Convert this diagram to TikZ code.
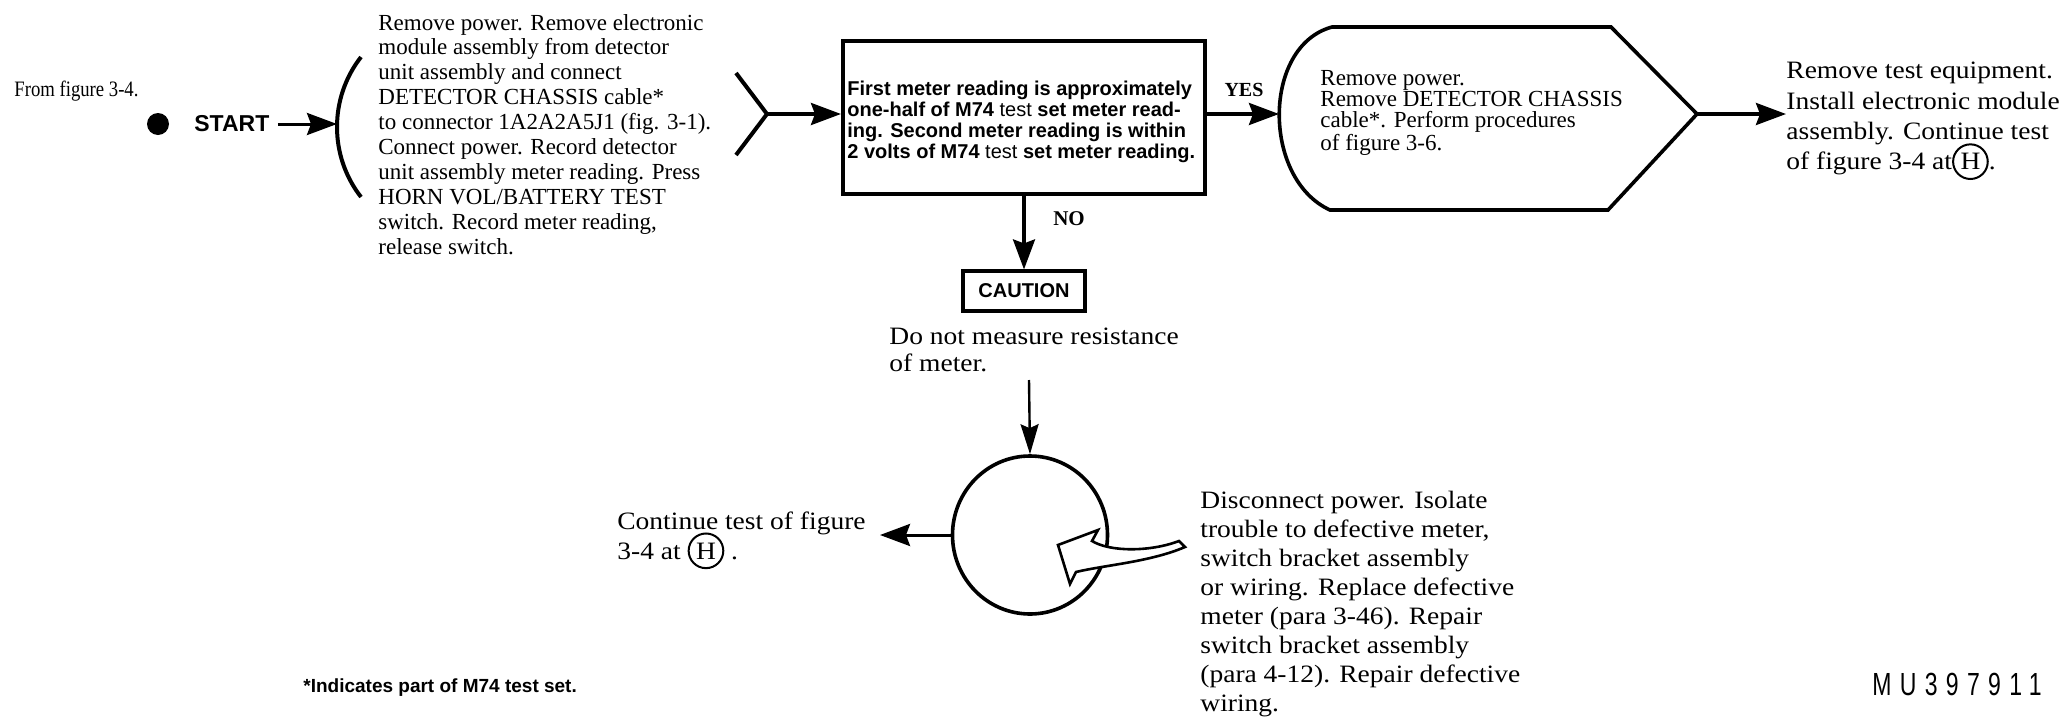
\documentclass[tikz,border=0pt]{standalone}
\usepackage{fontspec}
\usetikzlibrary{arrows.meta,shapes.geometric,calc}
\setmainfont{Liberation Serif}
\newfontfamily\bookface[FakeStretch=1.1]{Liberation Serif}
\newfontfamily\narrowface[FakeStretch=0.85]{Liberation Serif}
\newfontfamily\labelface{Liberation Sans}
\newfontfamily\tagface[FakeStretch=0.72,LetterSpace=26]{Liberation Sans}

% circled reference letter used in the "continue at" notes
\newcommand{\circH}{\smash{\tikz[baseline=(hc.base)]\node[draw,circle,line width=1pt,inner sep=1.6pt,anchor=center] (hc) {H};}}

\tikzset{
  note/.style={inner sep=0pt, align=left, anchor=north west},
  stepfont/.style={note, font=\rmfamily\fontsize{11.5}{12.45}\selectfont},
  branchlabel/.style={inner sep=0pt, font=\rmfamily\bfseries\fontsize{10}{12}\selectfont},
  flowline/.style={line width=1.8pt, line join=miter},
  flowarrow/.style={line width=1.8pt, -{Stealth[length=15pt,width=11pt,inset=2pt]}},
  thinarrow/.style={line width=1.2pt, -{Stealth[length=15pt,width=9pt,inset=2pt]}},
}

\begin{document}
\begin{tikzpicture}[x=0.5pt,y=-0.5pt]
\useasboundingbox (0,0) rectangle (2063,718);

% ---- entry point ----
\node[note, font=\narrowface\fontsize{11}{12}\selectfont] (from) at (14,81) {From figure 3-4.};
\node[circle, fill=black, minimum size=11pt, inner sep=0pt] (dot) at (158,124) {};
\node[inner sep=0pt, anchor=west, font=\labelface\bfseries\fontsize{11.5}{13}\selectfont] (start) at (194,124) {START};

% ---- first step: bracketed instruction ----
\coordinate (brL) at (337,124);
\draw[line width=2pt] (361,57) .. controls (329,98) and (329,156) .. (361,197);
\node[stepfont] (setup) at (378,13.7) {Remove power.  Remove electronic\\
module assembly from detector\\
unit assembly and connect\\
DETECTOR CHASSIS cable*\\
to connector 1A2A2A5J1 (fig. 3-1).\\
Connect power.  Record detector\\
unit assembly meter reading.  Press\\
HORN VOL/BATTERY TEST\\
switch.  Record meter reading,\\
release switch.};
\coordinate (apexL) at (767,114);
\draw[line width=2pt, line join=miter] (736,73) -- (apexL) -- (736,155);

% ---- decision ----
\node[draw, line width=2pt, minimum width=181pt, minimum height=76.5pt, inner sep=0pt] (check) at (1024,117.5) {};
\node[note, font=\labelface\bfseries\fontsize{10}{10.5}\selectfont] (checktxt) at (847,80.6) {First meter reading is approximately\\
one-half of M74 {\mdseries test} set meter read-\\
ing. Second meter reading is within\\
2 volts of M74 {\mdseries test} set meter reading.};

% ---- YES branch ----
\coordinate (hexL) at (1279,114);
\coordinate (hexR) at (1697,114);
\draw[flowline] (1332,27) -- (1611,27) -- (hexR) -- (1608,210) -- (1330,210)
  .. controls (1262,179) and (1262,46) .. (1332,27) -- cycle;
\node[note, font=\rmfamily\fontsize{11.5}{10.5}\selectfont] (yestxt) at (1320,69.7) {Remove power.\\
Remove DETECTOR CHASSIS\\
cable*.  Perform procedures\\
of figure 3-6.};
\node[note, font=\bookface\fontsize{12.5}{15.15}\selectfont] (done) at (1786,62) {Remove test equipment.\\
Install electronic module\\
assembly. Continue test\\
of figure 3-4 at\circH.};
\node[branchlabel] (yes) at (1244,90) {YES};

% ---- NO branch ----
\node[draw, line width=1.6pt, minimum width=61pt, minimum height=20pt, inner sep=0pt,
      font=\labelface\bfseries\fontsize{10}{12}\selectfont] (caution) at (1024,291) {CAUTION};
\node[branchlabel, font=\rmfamily\bfseries\fontsize{10.5}{12}\selectfont] (no) at (1069,219) {NO};
\node[note, font=\bookface\fontsize{12.5}{13.5}\selectfont] (warn) at (889,328) {Do not measure resistance\\
of meter.};
\coordinate (mtop) at (1029,380);
\node[draw, ellipse, line width=1.8pt, minimum width=77.5pt, minimum height=79pt, inner sep=0pt] (meter) at (1030,535) {};
\node[note, font=\bookface\fontsize{12.5}{15}\selectfont] (cont) at (617,511) {Continue test of figure\\
3-4 at \circH\ .};
\coordinate (contend) at (880,535);
\node[note, font=\bookface\fontsize{12.5}{14.5}\selectfont] (repair) at (1200,491) {Disconnect power. Isolate\\
trouble to defective meter,\\
switch bracket assembly\\
or wiring. Replace defective\\
meter (para 3-46). Repair\\
switch bracket assembly\\
(para 4-12). Repair defective\\
wiring.};

% ---- connectors ----
\draw[flowarrow, line width=1.5pt] (start.east) ++(8,0) -- (brL |- start.east);
\draw[flowarrow] (apexL) -- (apexL -| check.west);
\draw[flowarrow] (hexL -| check.east) -- (hexL);
\draw[flowarrow] (hexR) -- (hexR -| done.west);
\draw[flowarrow, line width=1.6pt] (check.south) -- (check.south |- caution.north);
\draw[thinarrow] (mtop) -- (meter.north);
\draw[flowarrow, line width=1.5pt] (meter.west) -- (meter.west -| contend);

% hollow pointer from the repair note into the meter circle
\draw[line width=1.3pt, fill=white, line join=miter]
  (1058,545) -- (1098,530) -- (1092,541)
  .. controls (1110,552) and (1150,552) .. (1179,541)
  -- (1185,547)
  .. controls (1150,562) and (1105,565) .. (1076,572)
  -- (1070,584) -- cycle;

% ---- footnotes ----
\node[inner sep=0pt, anchor=west, font=\labelface\bfseries\fontsize{9.5}{12}\selectfont] (footnote) at (303,688) {*Indicates part of M74 test set.};
\node[inner sep=0pt, anchor=east, font=\tagface\fontsize{16}{18}\selectfont] (figid) at (2042,684) {MU397911};
\end{tikzpicture}
\end{document}
